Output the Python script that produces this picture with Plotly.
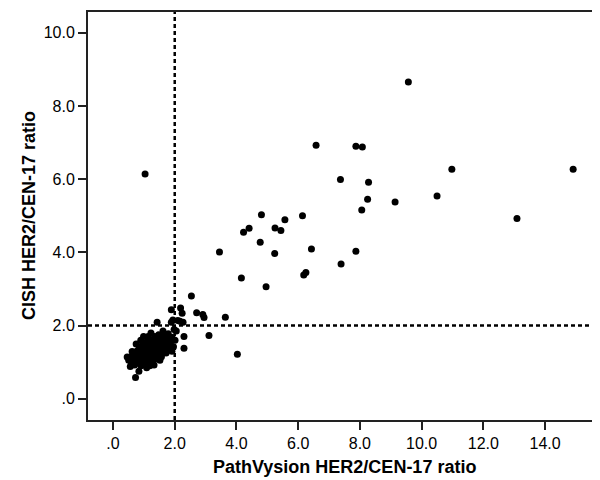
import plotly.graph_objects as go

# PathVysion (x) vs CISH (y) HER2/CEN-17 ratios
cluster_x = [0.51, 0.58, 0.64, 0.67, 0.70, 0.75, 0.77, 0.80, 0.83, 0.85,
             0.87, 0.90, 0.91, 0.94, 0.94, 0.96, 0.99, 0.99, 1.02, 1.04,
             1.04, 1.06, 1.09, 1.09, 1.12, 1.14, 1.14, 1.16, 1.19, 1.19,
             1.21, 1.23, 1.23, 1.25, 1.28, 1.28, 1.31, 1.33, 1.33, 1.35,
             1.38, 1.38, 1.41, 1.43, 1.43, 1.45, 1.48, 1.48, 1.50, 1.52,
             1.54, 1.57, 1.57, 1.60, 1.62, 1.64, 1.67, 1.70, 1.72, 1.74,
             1.77, 1.79, 1.81, 1.83, 1.86, 1.91, 1.96, 2.01, 2.05, 1.91,
             1.09, 1.19, 0.90, 0.99, 1.23, 1.33, 1.52, 1.62, 1.14, 0.75,
             0.46, 0.62, 0.73, 0.84, 0.56, 0.60]
cluster_y = [1.05, 1.15, 1.0, 1.22, 0.92, 1.1, 1.3, 0.98, 1.18, 1.4,
             1.05, 1.25, 0.9, 1.12, 1.35, 1.5, 1.0, 1.2, 1.42, 0.95,
             1.28, 1.1, 1.55, 1.35, 1.02, 1.2, 1.45, 1.62, 1.08, 1.3,
             1.5, 0.98, 1.18, 1.38, 1.6, 1.25, 1.05, 1.45, 1.15, 1.7,
             1.32, 1.52, 1.1, 1.25, 1.6, 1.4, 1.2, 1.75, 1.5, 1.3,
             1.62, 1.15, 1.42, 1.55, 1.28, 1.7, 1.4, 1.55, 1.25, 1.65,
             1.45, 1.78, 1.35, 1.6, 1.5, 1.68, 1.42, 1.6, 1.85, 1.3,
             0.85, 0.9, 1.6, 1.7, 1.8, 0.92, 1.05, 1.85, 1.7, 1.5,
             1.14, 1.29, 0.58, 0.75, 0.88, 0.97]

other_x = [1.89, 2.19, 2.24, 1.43, 1.89, 2.10, 2.27, 1.94, 2.17, 2.30, 2.30, 1.98,
           2.54, 2.71, 2.91, 2.95, 3.64, 3.11, 4.03, 1.04,
           3.45, 4.16, 4.23, 4.41, 4.77, 4.81, 4.96, 5.24, 5.25, 5.44, 5.57,
           6.14, 6.18, 6.25, 6.43, 6.58, 7.37, 7.39, 7.87, 7.87, 8.06, 8.08,
           8.25, 8.28, 9.14, 9.57, 10.50, 10.98, 13.09, 14.91]
other_y = [2.43, 2.48, 2.34, 2.09, 2.09, 2.14, 2.09, 2.15, 2.12, 1.70, 1.38, 1.89,
           2.81, 2.35, 2.30, 2.22, 2.23, 1.73, 1.22, 6.14,
           4.01, 3.30, 4.55, 4.66, 4.28, 5.03, 3.06, 3.97, 4.67, 4.60, 4.89,
           5.0, 3.38, 3.45, 4.09, 6.93, 5.99, 3.68, 6.90, 4.03, 5.16, 6.88,
           5.45, 5.92, 5.38, 8.66, 5.54, 6.27, 4.93, 6.27]

x_ticks = [0, 2, 4, 6, 8, 10, 12, 14]
x_labels = ['.0', '2.0', '4.0', '6.0', '8.0', '10.0', '12.0', '14.0']
y_ticks = [0, 2, 4, 6, 8, 10]
y_labels = ['.0', '2.0', '4.0', '6.0', '8.0', '10.0']

FONT = 'Liberation Sans, Arial'

fig = go.Figure()
fig.add_trace(go.Scatter(x=cluster_x + other_x, y=cluster_y + other_y, mode='markers',
                         marker=dict(color='black', size=7), showlegend=False))

# reference lines at ratio 2.0
fig.add_vline(x=2, line=dict(color='black', width=2.5, dash='4px,3px'))
fig.add_hline(y=2, line=dict(color='black', width=2.5, dash='4px,3px'))

axis_style = dict(showline=True, linecolor='#222', linewidth=2, mirror=True,
                  ticks='outside', ticklen=8, tickcolor='#222', tickwidth=1.5,
                  showgrid=False, zeroline=False, automargin=False,
                  tickfont=dict(family=FONT, size=16, color='black'))

fig.update_layout(
    width=600, height=480,
    margin=dict(l=80, r=8, t=4, b=68),
    plot_bgcolor='white', paper_bgcolor='white',
    xaxis=dict(range=[-0.81, 15.78], tickvals=x_ticks, ticktext=x_labels, **axis_style),
    yaxis=dict(range=[-0.58, 10.57], tickvals=y_ticks, ticktext=y_labels, **axis_style),
    annotations=[
        dict(text='<b>PathVysion HER2/CEN-17 ratio</b>', xref='paper', yref='paper',
             x=0.5, y=-0.115, yanchor='middle', xanchor='center', showarrow=False,
             font=dict(family=FONT, size=18, color='black')),
        dict(text='<b>CISH HER2/CEN-17 ratio</b>', xref='paper', yref='paper',
             x=-0.115, y=0.5, xanchor='center', yanchor='middle', textangle=-90,
             showarrow=False, font=dict(family=FONT, size=18, color='black')),
    ],
)

fig.write_html("out.html")
